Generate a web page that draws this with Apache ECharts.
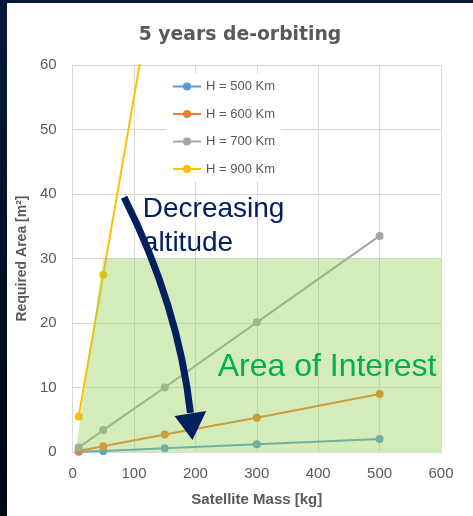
<!DOCTYPE html>
<html>
<head>
<meta charset="utf-8">
<script src="https://cdn.jsdelivr.net/npm/echarts@6/dist/echarts.min.js"></script>
<style>
html,body{margin:0;padding:0;width:473px;height:516px;overflow:hidden;background:linear-gradient(#04193a,#000814);}
#chart{position:absolute;left:7px;top:3px;width:466px;height:513px;background:#fff;}
</style>
</head>
<body>
<div id="chart"></div>
<script>
const masses = [10, 50, 150, 300, 500];
const h500 = [0.05, 0.15, 0.6, 1.2, 2.0];
const h600 = [0.15, 0.9, 2.7, 5.3, 9.0];
const h700 = [0.7, 3.4, 10.0, 20.1, 33.5];
const h900 = [5.5, 27.5, 82.5, 165, 275];
const seriesNames = ['H = 500 Km', 'H = 600 Km', 'H = 700 Km', 'H = 900 Km'];
const seriesColors = ['#5b9bd5', '#ed7d31', '#a5a5a5', '#ffc000'];
const xTicks = [0, 100, 200, 300, 400, 500, 600];
const yTicks = [0, 10, 20, 30, 40, 50, 60];
const interestRegion = [[5, 0], [50, 30], [600, 30]];
const arrowPath = { start: [83.9, 39.5], control: [172.6, 22.7], end: [191.9, 6.05] };
const arrowHead = [[195.2, 1.86], [166.1, 5.58], [217.7, 6.36]];

const chart = echarts.init(document.getElementById('chart'), null, {renderer: 'canvas'});
const allSeries = [h500, h600, h700, h900];
const lineSeries = allSeries.map((vals, i) => ({
  name: seriesNames[i],
  type: 'line',
  data: masses.map((m, j) => [m, vals[j]]),
  symbol: 'circle',
  symbolSize: 8,
  color: seriesColors[i],
  lineStyle: {width: 2, color: seriesColors[i]},
  itemStyle: {color: seriesColors[i]},
  z: 2,
  clip: true
}));
lineSeries.push({
  name: 'interest',
  type: 'line',
  data: interestRegion,
  symbol: 'none',
  lineStyle: {width: 0, opacity: 0},
  areaStyle: {color: 'rgba(146,208,80,0.4)', opacity: 1},
  silent: true,
  z: 5
});

const option = {
  animation: false,
  title: {
    text: '5 years de-orbiting',
    left: 'center', top: 18,
    textStyle: {fontFamily: 'DejaVu Sans', fontWeight: 'bold', fontSize: 18.8, color: '#595959'}
  },
  legend: {
    data: seriesNames,
    orient: 'vertical',
    left: 159, top: 71,
    padding: [6, 6],
    itemWidth: 28, itemHeight: 10, itemGap: 14.5,
    backgroundColor: '#ffffff',
    textStyle: {fontFamily: 'Liberation Sans', fontSize: 13, color: '#595959'},
    z: 10
  },
  grid: {left: 62, top: 62, right: 32, bottom: 64, containLabel: false},
  xAxis: {
    type: 'value', min: xTicks[0], max: xTicks[xTicks.length - 1], interval: 100,
    name: 'Satellite Mass [kg]', nameLocation: 'middle', nameGap: 40,
    nameTextStyle: {fontFamily: 'Liberation Sans', fontWeight: 'bold', fontSize: 15, color: '#595959'},
    axisLine: {show: true, lineStyle: {color: '#d9d9d9', width: 1}},
    axisTick: {show: false},
    axisLabel: {fontFamily: 'Liberation Sans', fontSize: 15, color: '#595959', margin: 14},
    splitLine: {show: true, lineStyle: {color: '#d9d9d9', width: 1}}
  },
  yAxis: {
    type: 'value', min: yTicks[0], max: yTicks[yTicks.length - 1], interval: 10,
    name: 'Required Area [m²]', nameLocation: 'middle', nameGap: 42,
    nameTextStyle: {fontFamily: 'Liberation Sans', fontWeight: 'bold', fontSize: 14, color: '#595959'},
    axisLine: {show: true, lineStyle: {color: '#d9d9d9', width: 1}},
    axisTick: {show: false},
    axisLabel: {fontFamily: 'Liberation Sans', fontSize: 15, color: '#595959', margin: 16},
    splitLine: {show: true, lineStyle: {color: '#d9d9d9', width: 1}}
  },
  series: lineSeries
};
chart.setOption(option);

function px(p) { return chart.convertToPixel({gridIndex: 0}, p); }
const s = px(arrowPath.start), c = px(arrowPath.control), e = px(arrowPath.end);
const head = arrowHead.map(px);
const anchorText = px([116, 39.5]);
const anchorArea = px([238, 11.8]);
chart.setOption({
  graphic: [
    {type: 'bezierCurve', z: 100,
     shape: {x1: s[0], y1: s[1], cpx1: c[0], cpy1: c[1], x2: e[0], y2: e[1]},
     style: {stroke: '#002060', lineWidth: 7, fill: null}},
    {type: 'polygon', z: 100, shape: {points: head}, style: {fill: '#002060'}},
    {type: 'text', z: 100, left: anchorText[0] - 1, top: anchorText[1] - 5,
     style: {text: 'Decreasing\naltitude', fontFamily: 'Liberation Sans', fontSize: 28, lineHeight: 34, fill: '#002060'}},
    {type: 'text', z: 100, left: anchorArea[0] - 1, top: anchorArea[1] - 25,
     style: {text: 'Area of Interest', fontFamily: 'Liberation Sans', fontSize: 32, fill: '#00b050'}}
  ]
});
</script>
</body>
</html>
